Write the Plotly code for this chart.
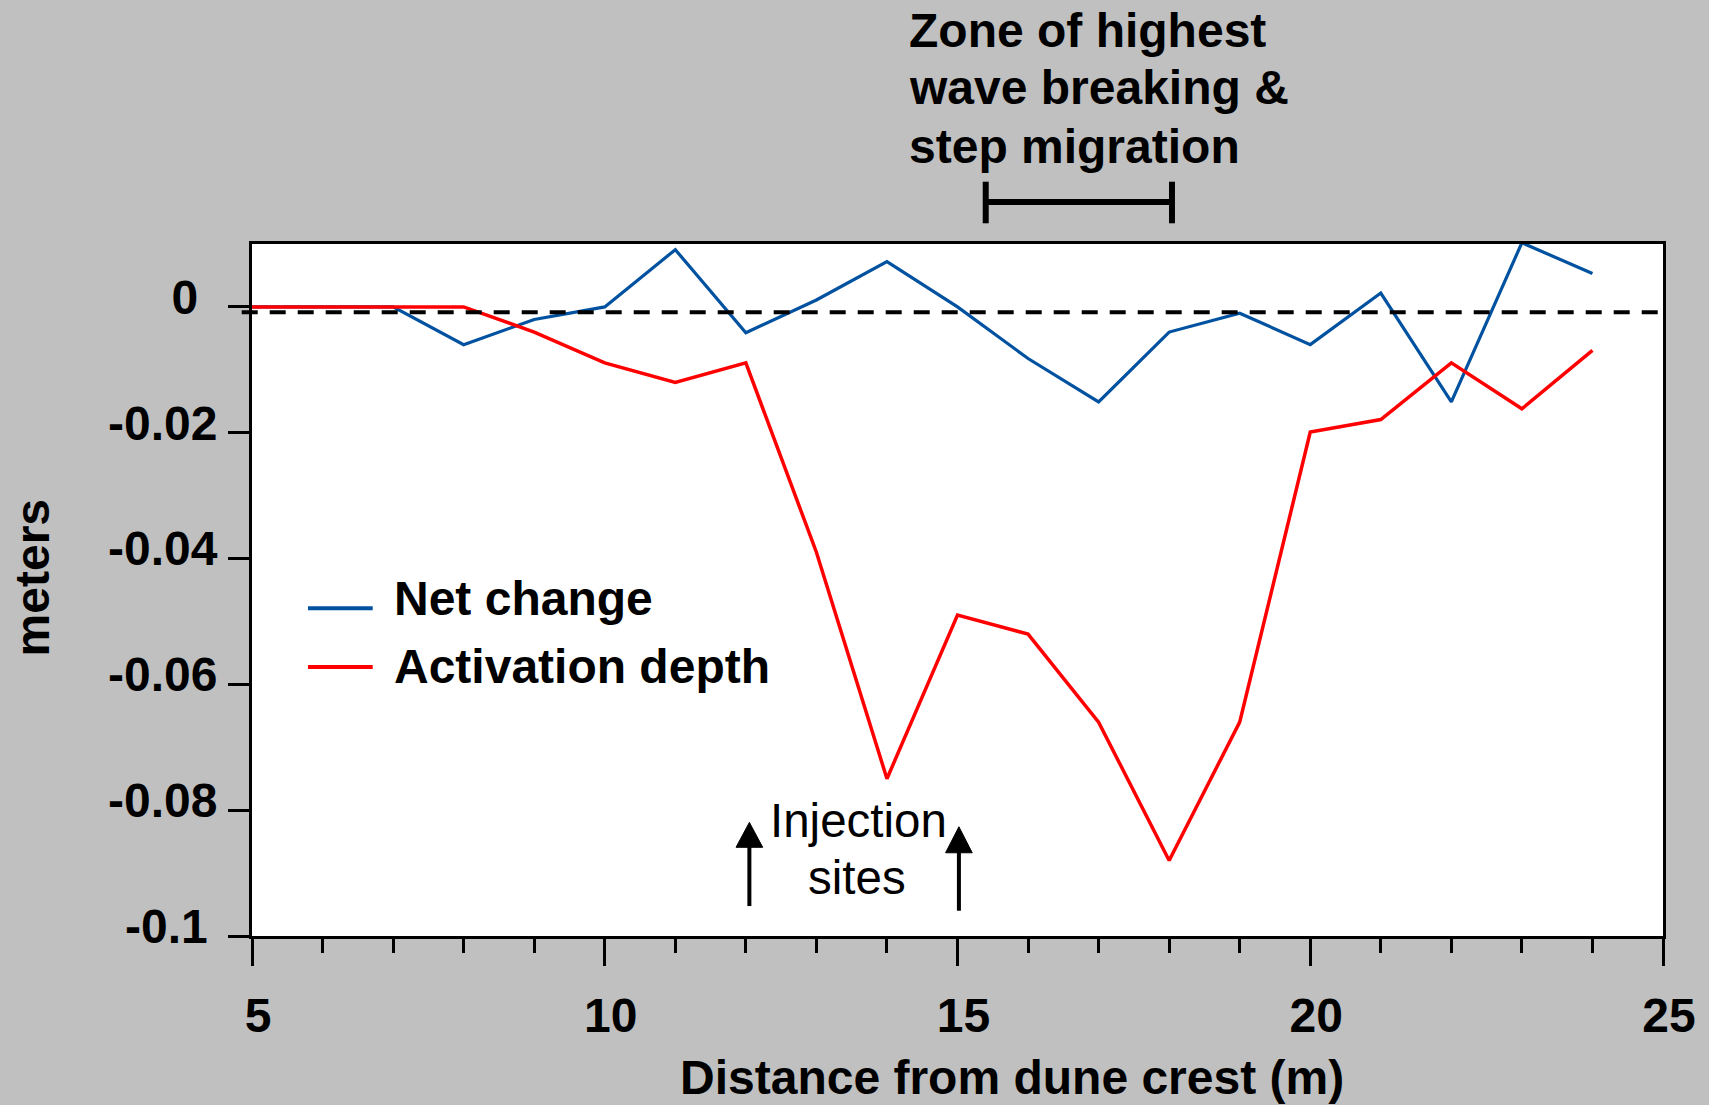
import plotly.graph_objects as go

# ---- data ----
distance = [5, 6, 7, 8, 9, 10, 11, 12, 13, 14, 15, 16, 17, 18, 19, 20, 21, 22, 23, 24]
net_change = [0.0, 0.0, 0.0, -0.006, -0.002, 0.0, 0.0091, -0.0041, 0.0011, 0.0072,
              0.0, -0.0082, -0.0151, -0.004, -0.001, -0.006, 0.0022, -0.0151, 0.0102, 0.0053]
activation_depth = [0.0, 0.0, 0.0, 0.0, -0.004, -0.0089, -0.012, -0.0089, -0.039, -0.075,
                    -0.049, -0.052, -0.066, -0.088, -0.066, -0.0199, -0.0179, -0.0089, -0.0162, -0.0069]
series_names = ["Net change", "Activation depth"]
y_tickvals = [0, -0.02, -0.04, -0.06, -0.08, -0.1]
y_ticktext = ["0\u2009\u2009", "-0.02", "-0.04", "-0.06", "-0.08", "-0.1\u2009"]
x_tickvals = [5, 10, 15, 20, 25]
zone_start, zone_end = 15.4, 18.04
injection_sites = [12.05, 15.02]
reference_level = -0.00086

BLUE = "#0052a0"
RED = "#ff0000"
BG = "#c0c0c0"
FONT = "Liberation Sans, Arial, sans-serif"

W, H = 1709, 1105
L, R, T, B = 252, 46, 244, 169
PW, PH = W - L - R, H - T - B


def px_x(px):
    return (px - L) / PW


def px_y(py):
    return (H - B - py) / PH


fig = go.Figure()
fig.add_trace(go.Scatter(x=distance, y=net_change, mode="lines", name=series_names[0],
                         line=dict(color=BLUE, width=3.2), showlegend=False))
fig.add_trace(go.Scatter(x=distance, y=activation_depth, mode="lines", name=series_names[1],
                         line=dict(color=RED, width=3.5), showlegend=False))

shapes = []
# dashed reference line
shapes.append(dict(type="line", xref="paper", yref="y", x0=px_x(241.7), x1=px_x(1657.7),
                   y0=reference_level, y1=reference_level,
                   line=dict(color="black", width=4, dash="16px,12px")))
# zone bar
bar_y = px_y(202)
shapes.append(dict(type="line", xref="x", yref="paper", x0=zone_start, x1=zone_end,
                   y0=bar_y, y1=bar_y, line=dict(color="black", width=6)))
for xz in (zone_start, zone_end):
    shapes.append(dict(type="line", xref="x", yref="paper", x0=xz, x1=xz,
                       y0=px_y(223.3), y1=px_y(181.7), line=dict(color="black", width=6)))
# injection arrows
arrow_geo = [(-0.09524, -0.0859, -0.08194), (-0.09598, -0.08677, -0.08264)]
half_w = 0.189
for xs, (ytail, ybase, ytip) in zip(injection_sites, arrow_geo):
    shapes.append(dict(type="line", xref="x", yref="y", x0=xs, x1=xs, y0=ytail, y1=ybase + 0.001,
                       line=dict(color="black", width=4)))
    shapes.append(dict(type="path", xref="x", yref="y",
                       path=f"M {xs - half_w},{ybase} L {xs + half_w},{ybase} L {xs},{ytip} Z",
                       fillcolor="black", line=dict(color="black", width=1)))
# legend lines
for yy, col in ((608.3, BLUE), (667.0, RED)):
    shapes.append(dict(type="line", xref="paper", yref="paper", x0=px_x(308), x1=px_x(372.7),
                       y0=px_y(yy), y1=px_y(yy), line=dict(color=col, width=4)))

bold = dict(family=FONT, size=48, color="black", weight="bold")
reg = dict(family=FONT, size=47.5, color="black")

annotations = []
def ann(text, x, y, font, xanchor="center", angle=0):
    annotations.append(dict(text=text, xref="paper", yref="paper", x=px_x(x), y=px_y(y),
                            xanchor=xanchor, yanchor="middle", showarrow=False, font=font,
                            textangle=angle))

# legend text
ann(series_names[0], 392, 598.5, bold, xanchor="left")
ann(series_names[1], 392, 666.5, bold, xanchor="left")
# zone text
ann("Zone of highest", 907, 30.4, bold, xanchor="left")
ann("wave breaking &", 907, 87.7, bold, xanchor="left")
ann("step migration", 907, 146.7, bold, xanchor="left")
# injection text
ann("Injection", 858, 820.4, reg)
ann("sites", 857, 877.0, reg)
# axis titles
ann("Distance from dune crest (m)", 1012, 1077.5, bold)
ann("meters", 32.7, 577.7, bold, angle=-90)

fig.update_layout(
    width=W, height=H,
    margin=dict(l=L, r=R, t=T, b=B, pad=0),
    paper_bgcolor=BG, plot_bgcolor="white",
    showlegend=False,
    shapes=shapes, annotations=annotations,
    font=dict(family=FONT, size=48, color="black"),
)
fig.update_xaxes(range=[5, 25], tickvals=x_tickvals, ticks="outside", ticklen=27, tickwidth=3,
                 tickcolor="black", showline=True, linewidth=3, linecolor="black", mirror=True,
                 showgrid=False, zeroline=False, tickfont=bold, ticklabelstandoff=8,
                 ticklabelshift=6,
                 minor=dict(dtick=1, ticks="outside", ticklen=14, tickwidth=3, tickcolor="black",
                            showgrid=False))
fig.update_yaxes(range=[-0.1, 0.01], tickvals=y_tickvals, ticktext=y_ticktext, ticks="outside",
                 ticklen=21, tickwidth=3, tickcolor="black", showline=True, linewidth=3,
                 linecolor="black", mirror=True, showgrid=False, zeroline=False, tickfont=bold,
                 ticklabelstandoff=1, ticklabelshift=-10)

fig.write_html("out.html")
